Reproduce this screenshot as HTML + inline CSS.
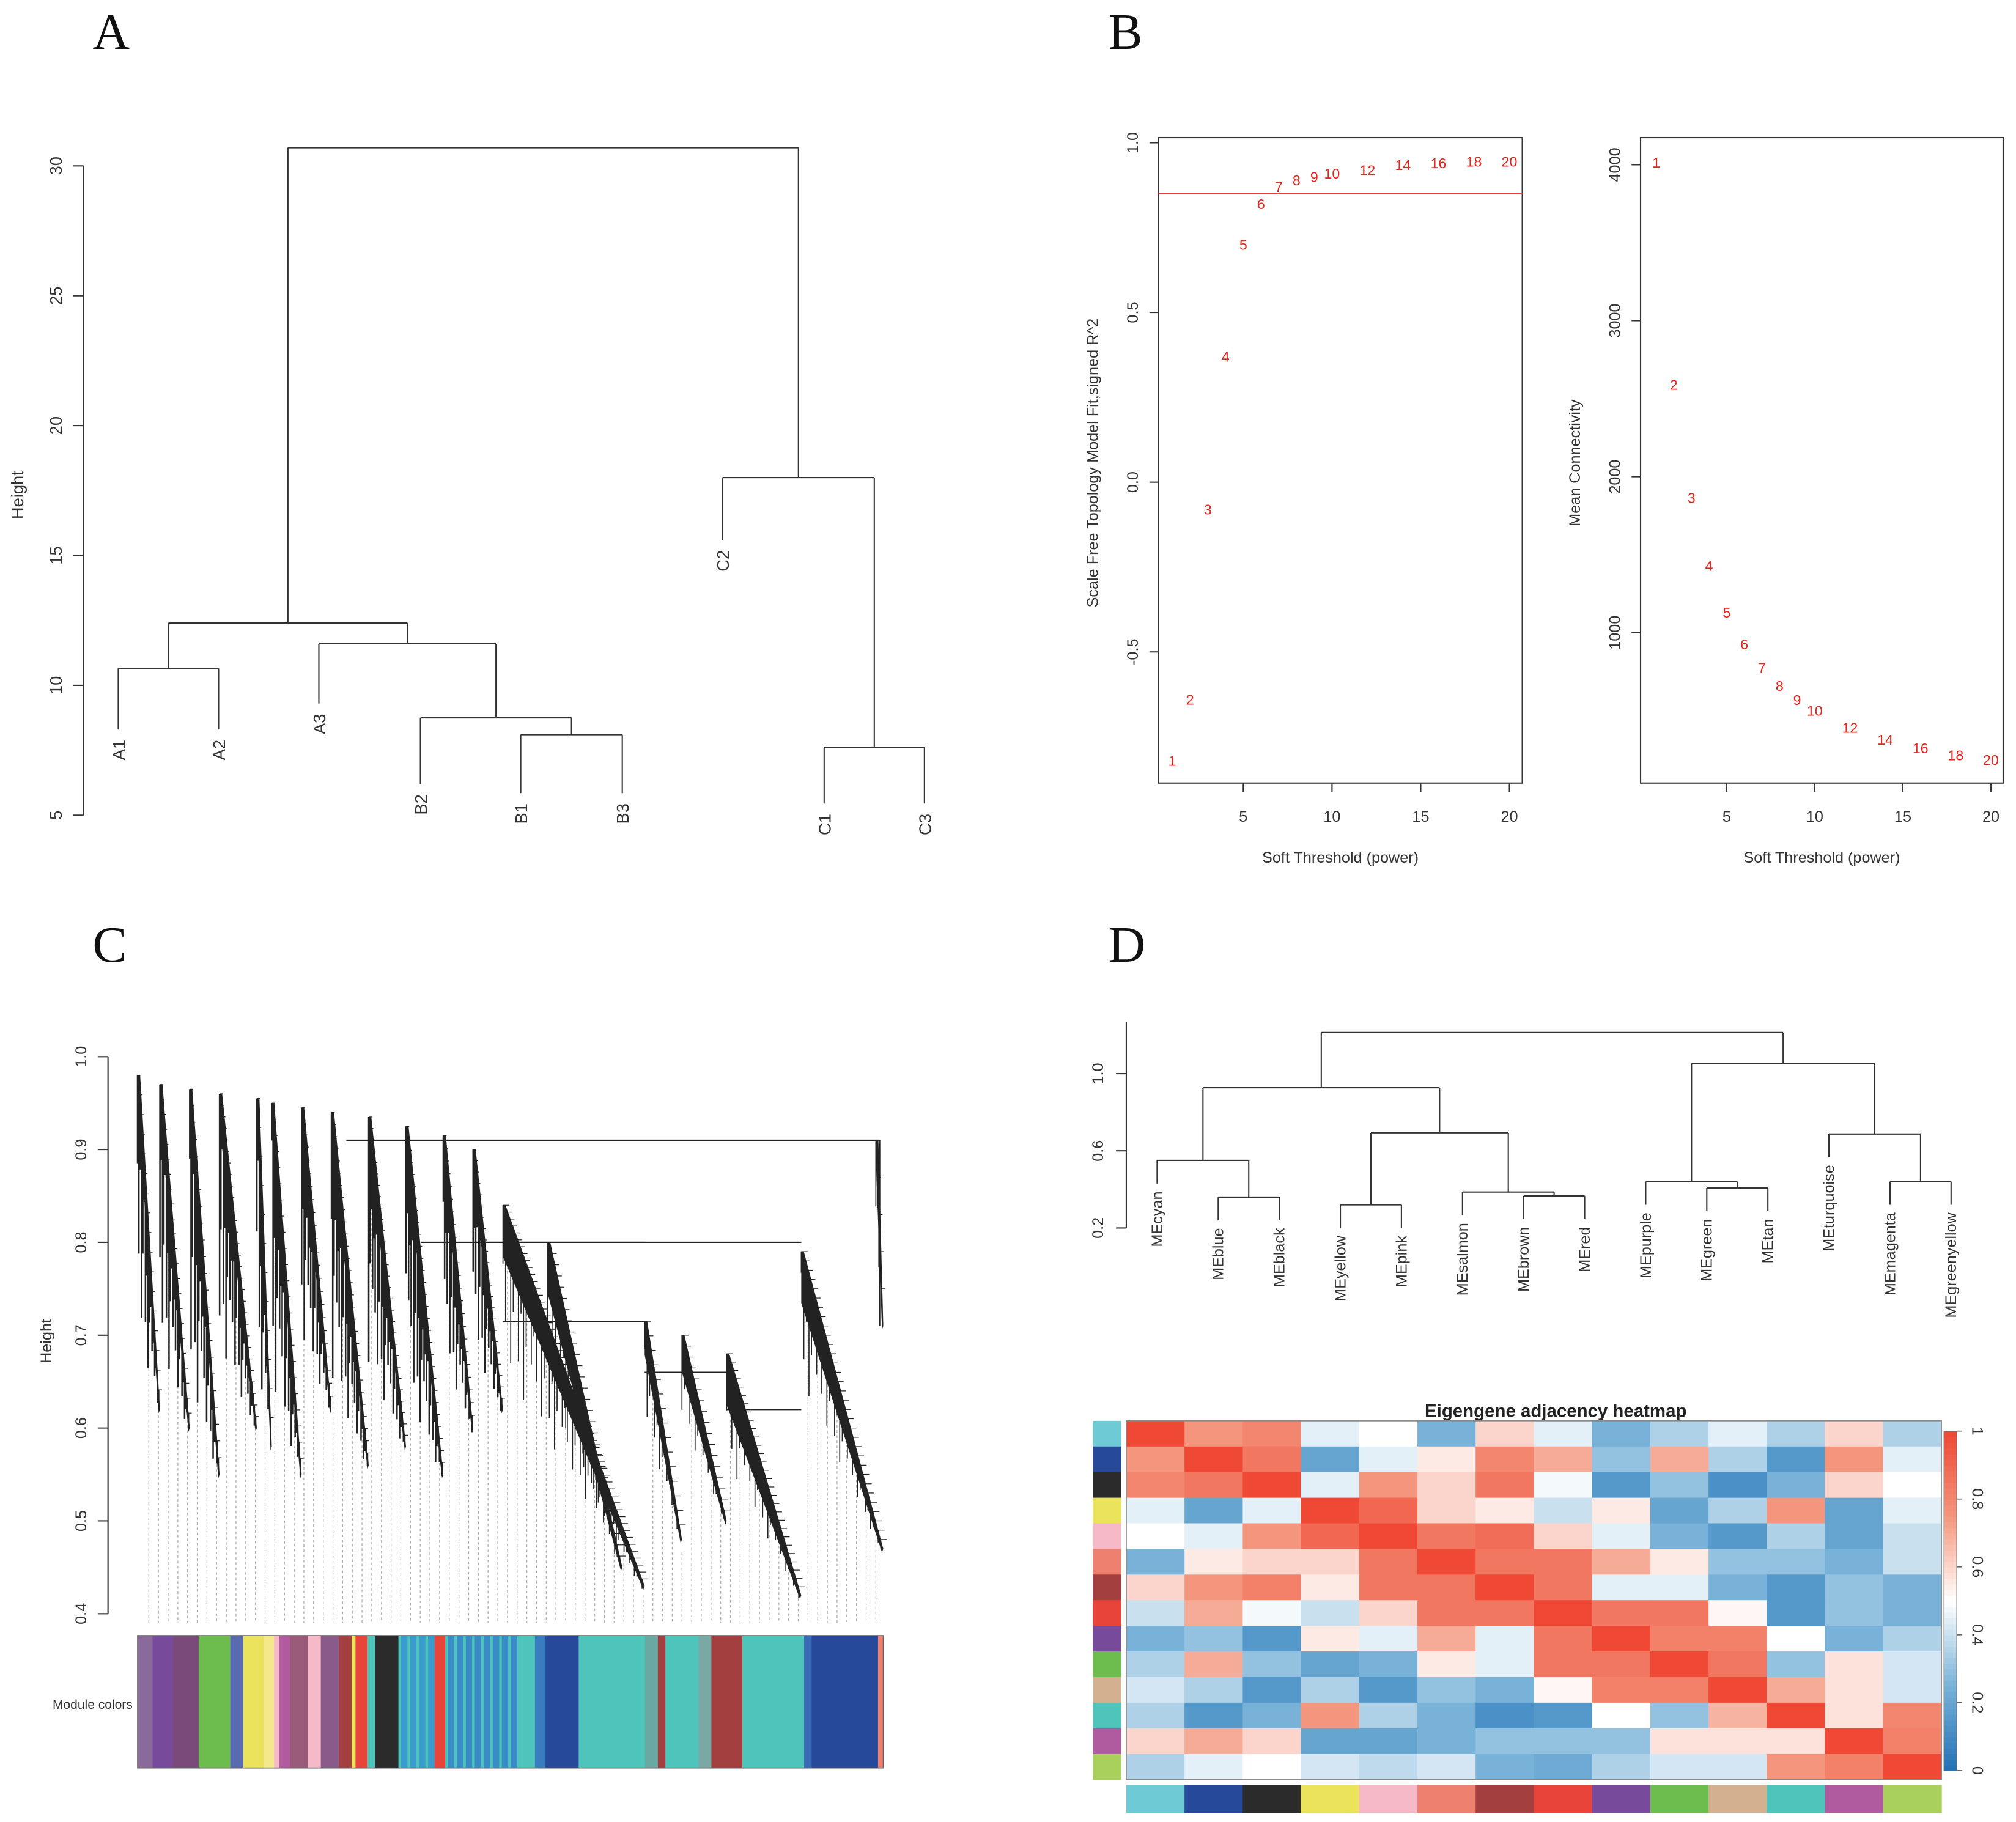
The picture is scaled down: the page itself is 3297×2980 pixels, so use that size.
<!DOCTYPE html>
<html><head><meta charset="utf-8">
<style>
html,body{margin:0;padding:0;background:#fff;}
svg{display:block;}
text{font-family:"Liberation Sans",sans-serif;}
.pl{font-family:"Liberation Serif",serif;font-size:40px;fill:#111;}
</style></head>
<body>
<svg id="fig" xmlns="http://www.w3.org/2000/svg" width="3297" height="2980" viewBox="0 0 1568 1417" preserveAspectRatio="none">
<rect width="1568" height="1417" fill="#fff"/>
<text class="pl" x="72" y="38">A</text>
<text class="pl" x="862" y="38">B</text>
<text class="pl" x="72" y="748">C</text>
<text class="pl" x="862" y="748">D</text>
<g id="pA"></g>
<g id="pB1"></g>
<g id="pB2"></g>
<g id="pC"></g>
<g id="pD1"></g>
<g id="pD2"></g>
</svg>
<script>
// ---------- Panel A data ----------
const aLeaves = ["A1","A2","A3","B2","B1","B3","C2","C1","C3"];
const aLeafH = [8.3,8.3,9.3,6.2,5.85,5.85,15.6,5.45,5.45];
const aMerges = [[-1,-2,10.65],[-5,-6,8.1],[-4,2,8.75],[-3,3,11.6],[1,4,12.4],[-8,-9,7.6],[-7,6,18],[5,7,30.7]];
const aTicks = [5,10,15,20,25,30];
// ---------- Panel B data ----------
const powers = [1,2,3,4,5,6,7,8,9,10,12,14,16,18,20];
const fitR2 = [-0.82,-0.64,-0.08,0.37,0.70,0.82,0.87,0.89,0.90,0.91,0.92,0.935,0.94,0.945,0.945];
const meanK = [4015,2590,1865,1430,1130,925,775,660,570,500,390,315,260,215,185];
const fitTicks = [-0.5,0.0,0.5,1.0];
const kTicks = [1000,2000,3000,4000];
const powTicks = [5,10,15,20];
const cutLine = 0.85;
// ---------- Panel C data ----------
const cTicks = [0.4,0.5,0.6,0.7,0.8,0.9,1.0];
const cFans = [[0,3,0.98,0.62],[3,7,0.97,0.60],[7,11,0.965,0.55],[11,16,0.96,0.60],[16,18,0.955,0.58],[18,22,0.95,0.55],[22,26,0.945,0.62],[26,31,0.94,0.56],[31,36,0.935,0.58],[36,41,0.925,0.55],[41,45,0.915,0.6],[45,49,0.9,0.62],[49,68,0.84,0.43],[55,65,0.80,0.45],[68,73,0.715,0.48],[73,79,0.70,0.50],[79,89,0.68,0.42],[89,100,0.79,0.47],[99,100,0.91,0.71]];
const cMergesArr = [[28,99.5,0.91],[38,89,0.80],[45,68,0.80],[49,68,0.715],[68,79,0.66],[79,89,0.62]];
const colSegW = [2,2.7,3.4,4.2,1.7,2.7,1.4,0.7,1.4,2.4,1.7,2.4,1.7,0.5,1.6,1,3.1,4.8,1.4,9.9,2,1.4,4.4,8.8,1.7,1,4.4,1.7,4.1,8.2,1,8.8,0.7];
const colSegC = ["#8a6a9a","#784a9c","#7a4a7a","#6dbd4e","#5a6ab0","#ece35c","#f3e88a","#f6b9c8","#b05ba0","#9a5a7a","#f6b9c8","#8a5a8a","#a33f3f","#ece35c","#e8443a","#4fc4bb","#2b2b2b","#3a9ccc","#e8443a","#3a8cc7","#4fc4bb","#3a7cc0","#26499a","#4fc4bb","#6aa8a4","#a33f3f","#4fc4bb","#7aa8a4","#a33f3f","#4fc4bb","#3a6ab8","#26499a","#ee8070"];
// ---------- Panel D data ----------
const meNames = ["MEcyan","MEblue","MEblack","MEyellow","MEpink","MEsalmon","MEbrown","MEred","MEpurple","MEgreen","MEtan","MEturquoise","MEmagenta","MEgreenyellow"];
const meColors = ["#6ecad5","#26499a","#2b2b2b","#ece35c","#f6b9c8","#ee8070","#a33f3f","#e8443a","#784a9c","#6dbd4e","#d3b08f","#4fc4bb","#b05ba0","#a9cf5c"];
const dMerges = [[-2,-3,0.36],[-1,1,0.55],[-4,-5,0.32],[-7,-8,0.366],[-6,4,0.386],[3,5,0.693],[2,6,0.927],[-10,-11,0.407],[-9,8,0.44],[-13,-14,0.44],[-12,10,0.687],[9,11,1.053],[7,12,1.213]];
const dTicks = [0.2,0.6,1.0];
const adj = [
[1,.75,.8,.45,.5,.25,.6,.45,.25,.35,.45,.35,.6,.35],
[.75,1,.85,.2,.45,.55,.8,.7,.3,.7,.35,.15,.75,.45],
[.8,.85,1,.45,.75,.6,.85,.48,.15,.3,.12,.25,.6,.5],
[.45,.2,.45,1,.9,.6,.55,.4,.55,.2,.35,.75,.2,.45],
[.5,.45,.75,.9,1,.85,.88,.6,.45,.25,.15,.35,.2,.4],
[.25,.55,.6,.6,.85,1,.85,.85,.7,.55,.3,.3,.25,.4],
[.6,.75,.82,.55,.85,.85,1,.85,.45,.45,.25,.15,.3,.25],
[.4,.7,.48,.4,.6,.85,.85,1,.85,.85,.52,.15,.3,.25],
[.25,.3,.15,.55,.45,.7,.45,.85,1,.82,.82,.5,.25,.35],
[.35,.7,.3,.2,.25,.55,.45,.85,.85,1,.85,.3,.57,.42],
[.42,.35,.15,.35,.15,.3,.25,.52,.82,.82,1,.7,.57,.42],
[.35,.15,.25,.75,.35,.25,.12,.15,.5,.3,.68,1,.57,.8],
[.6,.7,.6,.2,.2,.25,.3,.3,.3,.57,.57,.57,1,.82],
[.35,.45,.5,.42,.38,.42,.25,.22,.35,.42,.42,.75,.82,1]];
const cbTicks = [0,0.2,0.4,0.6,0.8,1];

const NS="http://www.w3.org/2000/svg";
function mk(parent,tag,attrs,txt){const e=document.createElementNS(NS,tag);for(const k in attrs)e.setAttribute(k,attrs[k]);if(txt!==undefined)e.textContent=txt;parent.appendChild(e);return e;}
function ln(p,x1,y1,x2,y2,st,w){return mk(p,"line",{x1,y1,x2,y2,stroke:st||"#333","stroke-width":w||1});}
function rtext(p,x,y,t,size,anchor,rot){const e=mk(p,"text",{x,y,"font-size":size,"text-anchor":anchor||"middle",fill:"#333",transform:`rotate(${rot===undefined?-90:rot} ${x} ${y})`},t);return e;}

// ---------- Panel A ----------
(function(){
const g=document.getElementById("pA");
const y=h=>634-(h-5)*20.2;
const lx=[92,170,248,327,405,484,562,641,719];
const ax=mk(g,"g",{});


ln(ax,65,y(aTicks[0]),65,y(aTicks[aTicks.length-1]));
aTicks.forEach(t=>{ln(ax,57,y(t),65,y(t));const tx=rtext(ax,48,y(t),String(t),13,"middle");

});
const yt=rtext(g,18,385,"Height",13);


const pos=[],hh=[];
function node(c){return c<0?{x:lx[-c-1],h:aLeafH[-c-1],leaf:true}:{x:pos[c-1],h:hh[c-1]};}
aMerges.forEach((m,i)=>{const a=node(m[0]),b=node(m[1]);const H=m[2];
ln(g,a.x,y(H),b.x,y(H));ln(g,a.x,y(H),a.x,y(a.h));ln(g,b.x,y(H),b.x,y(b.h));
pos.push((a.x+b.x)/2);hh.push(H);});
aLeaves.forEach((n,i)=>{const t=rtext(g,lx[i]+5,y(aLeafH[i])+8,n,13,"end");

});
})();

// ---------- Panel B ----------
function scatterPanel(id,box,xs,ysc,yt,ytick,ylab,vals){
const g=document.getElementById(id);
mk(g,"rect",{x:box[0],y:box[1],width:box[2]-box[0],height:box[3]-box[1],fill:"none",stroke:"#333","stroke-width":1});
powTicks.forEach(t=>{ln(g,xs(t),box[3],xs(t),box[3]+7);const tl=mk(g,"text",{x:xs(t),y:box[3]+30,"font-size":12,"text-anchor":"middle",fill:"#333"},String(t));

});
ytick.forEach(t=>{ln(g,box[0]-7,ysc(t),box[0],ysc(t));const tl=rtext(g,box[0]-16,ysc(t),yt(t),12,"middle");

});
const xl=mk(g,"text",{x:(box[0]+box[2])/2,y:671,"font-size":12,"text-anchor":"middle",fill:"#333"},"Soft Threshold (power)");


const yl=rtext(g,box[0]-47,360,ylab,12);


powers.forEach((p,i)=>{const t=mk(g,"text",{x:xs(p),y:ysc(vals[i])+4,"font-size":11,"text-anchor":"middle",fill:"#e8231c"},String(p));

});
return g;}
(function(){
const xs=p=>967+(p-5)*13.8, ys=v=>375-v*264;
const g=scatterPanel("pB1",[901,107,1184,609],xs,ys,t=>t.toFixed(1),fitTicks,"Scale Free Topology Model Fit,signed R^2",fitR2);
const l=ln(g,901,ys(cutLine),1184,ys(cutLine),"#ee3a3a",1);


const xs2=p=>1343+(p-5)*13.7, ys2=v=>492-(v-1000)*0.1213;
scatterPanel("pB2",[1276,107,1558,609],xs2,ys2,t=>String(t),kTicks,"Mean Connectivity",meanK);
})();

// ---------- Panel C ----------
(function(){
const g=document.getElementById("pC");
const y=h=>1255-(h-0.4)*722;
const x=i=>107+i*5.8;
ln(g,84,y(0.4),84,y(1.0));
cTicks.forEach(t=>{ln(g,76,y(t),84,y(t));const tl=rtext(g,67,y(t),t.toFixed(1),12,"middle");

});
const yt=rtext(g,40,1043,"Height",12);


const dash=mk(g,"g",{});
for(let xi=1.5;xi<100;xi+=1.3){let bot=null;cFans.forEach(f=>{if(xi>=f[0]&&xi<=f[1]){const hb=f[2]+(f[3]-f[2])*(xi-f[0])/(f[1]-f[0]);const yy=y(hb)+10;if(bot===null||yy>bot)bot=yy;}});if(bot!==null&&bot<1260){const d=ln(dash,x(xi),bot,x(xi),1262,"#aaa",0.6);d.setAttribute("stroke-dasharray","2,2");}}
cMergesArr.forEach(m=>{ln(g,x(m[0]),y(m[2]),x(m[1]),y(m[2]),"#222",1);});
ln(g,x(99.5),y(0.91),x(99.5),y(0.71),"#222",1.2);
const pat=[0.3,0.6,0.2,0.8,0.45,0.1,0.7,0.35,0.9,0.5,0.25,0.55];
cFans.forEach((f,fi)=>{
 const x0=x(f[0]),x1=x(f[1]),y0=y(f[2]),y1=y(f[3]);
 const w=x1-x0;
 const left=f[0]<49;
 const th=Math.min(10,3+w*0.12);
 mk(g,"polygon",{points:`${x0},${y0} ${x0+2},${y0} ${x1},${y1} ${x1-1},${y1+3} ${x0},${y0+th*4}`,fill:"#222"});
 const n=Math.max(5,Math.round(w/(left?1:2)));
 for(let k=0;k<n;k++){const t=k/n;const xx=x0+w*t;const yy=y0+(y1-y0)*t;const len=(y1-yy)*pat[(k+fi)%12]*(left?0.8:0.45)+6;
  ln(g,xx,yy,xx,Math.min(yy+len,y1+4),"#222",left?1.2:0.8);ln(g,xx,yy,xx+w/n*2.5,yy,"#222",0.6);}
});
const bar=mk(g,"g",{});


const tot=colSegW.reduce((a,b)=>a+b,0);let cx=107;
colSegW.forEach((w,i)=>{const ww=w/tot*580;mk(bar,"rect",{x:cx,y:1272,width:ww+0.3,height:103,fill:colSegC[i]});
 if(w>3.5&&(colSegC[i]=="#3a8cc7"||colSegC[i]=="#3a9ccc")){for(let s=cx;s<cx+ww-2;s+=7)mk(bar,"rect",{x:s,y:1272,width:2,height:103,fill:"#4fc4bb"});}
 cx+=ww;});
mk(bar,"rect",{x:107,y:1272,width:580,height:103,fill:"none",stroke:"#666","stroke-width":0.8});
const ml=mk(g,"text",{x:72,y:1329,"font-size":10,"text-anchor":"middle",fill:"#333"},"Module colors");


})();

// ---------- Panel D dendrogram ----------
(function(){
const g=document.getElementById("pD1");
const y=h=>985-h*150;
const lx=meNames.map((n,i)=>900+i*47.5);
ln(g,876,795,876,y(0.2));
dTicks.forEach(t=>{ln(g,868,y(t),876,y(t));const tl=rtext(g,858,y(t),t.toFixed(1),12,"middle");

});
const pos=[],hh=[];const hang=0.12;const leafEnd=new Array(14);
function node(c,H){if(c<0){const i=-c-1;leafEnd[i]=H-hang;return {x:lx[i],h:H-hang};}return {x:pos[c-1],h:hh[c-1]};}
dMerges.forEach(m=>{const H=m[2];const a=node(m[0],H),b=node(m[1],H);
ln(g,a.x,y(H),b.x,y(H));ln(g,a.x,y(H),a.x,y(a.h));ln(g,b.x,y(H),b.x,y(b.h));pos.push((a.x+b.x)/2);hh.push(H);});
meNames.forEach((n,i)=>{const t=rtext(g,lx[i]+4,y(leafEnd[i])+6,n,12,"end");

});
})();

// ---------- Panel D heatmap ----------
(function(){
const g=document.getElementById("pD2");
const X0=876,Y0=1105,W=634,H=279,n=meNames.length,cw=W/n,ch=H/n;
const stops=[[0,[33,113,181]],[0.25,[120,178,216]],[0.5,[255,255,255]],[0.75,[244,150,125]],[1,[239,72,52]]];
function col(v){v=Math.max(0,Math.min(1,v));for(let i=1;i<stops.length;i++){if(v<=stops[i][0]){const a=stops[i-1],b=stops[i];const t=(v-a[0])/(b[0]-a[0]);return `rgb(${a[1].map((c,k)=>Math.round(c+(b[1][k]-c)*t)).join(",")})`;}}}
const tt=mk(g,"text",{x:1210,y:1102,"font-size":14,"font-weight":"bold","text-anchor":"middle",fill:"#222"},"Eigengene adjacency heatmap");


adj.forEach((row,r)=>row.forEach((v,c)=>{const e=mk(g,"rect",{x:X0+c*cw,y:Y0+r*ch,width:cw+0.4,height:ch+0.4,fill:col(v)});

}));
mk(g,"rect",{x:X0,y:Y0,width:W,height:H,fill:"none",stroke:"#888","stroke-width":0.8});
meColors.forEach((c,i)=>{const a=mk(g,"rect",{x:850,y:Y0+i*ch,width:22,height:ch+0.3,fill:c});


const b=mk(g,"rect",{x:X0+i*cw,y:1388,width:cw+0.3,height:22,fill:c});

});
const cb=mk(g,"g",{});


const cy=v=>1377-v*264;
for(let k=0;k<60;k++){const v=k/60;mk(cb,"rect",{x:1512,y:cy(v+1/60),width:10,height:264/60+0.5,fill:col(v+0.5/60)});}
mk(cb,"rect",{x:1512,y:1113,width:10,height:264,fill:"none",stroke:"#666","stroke-width":0.6});
cbTicks.forEach(t=>{ln(cb,1522,cy(t),1526,cy(t),"#666",0.8);rtext(cb,1534,cy(t),String(t),12,"middle",90);});
})();
</script>
</body></html>
